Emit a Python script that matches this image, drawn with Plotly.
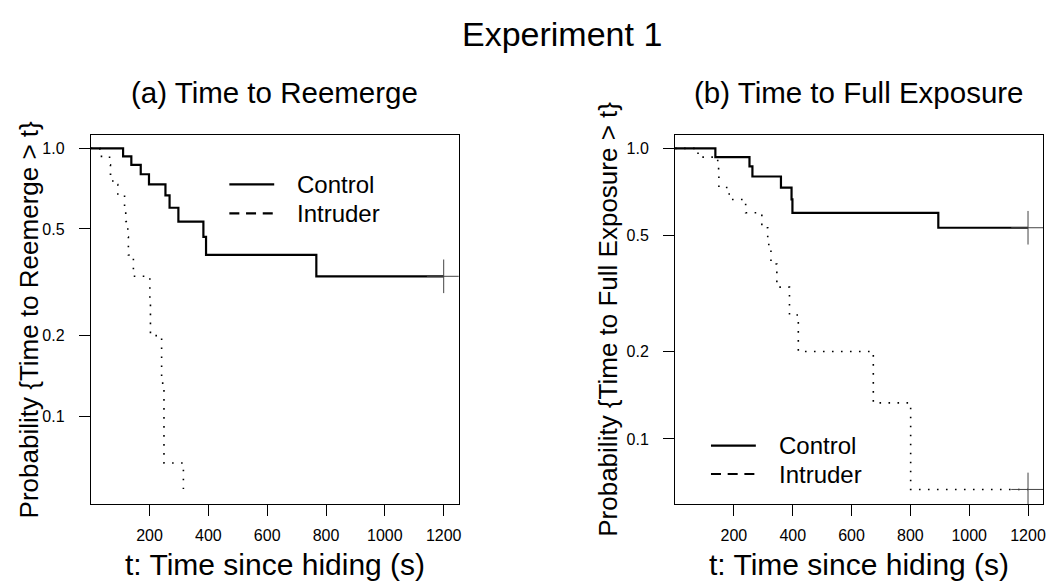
import plotly.graph_objects as go

# Kaplan-Meier step estimates (time in seconds, survival probability)
# (a) Time to reemerge
a_control_t = [0, 110, 138, 170, 198, 254, 268, 298, 383, 392, 767, 1200]
a_control_s = [1.0, 0.933, 0.867, 0.800, 0.733, 0.667, 0.600, 0.533, 0.467, 0.400, 0.333, 0.333]
a_intruder_t = [0, 31, 64, 67, 75, 92, 115, 119, 126, 128, 145, 201, 203, 241, 249, 315]
a_intruder_s = [1.0, 0.933, 0.867, 0.800, 0.733, 0.667, 0.600, 0.533, 0.467, 0.400, 0.333,
                0.267, 0.200, 0.133, 0.067, 0.0]

# (b) Time to full exposure
b_control_t = [0, 137, 253, 263, 360, 396, 399, 895, 1200]
b_control_s = [1.0, 0.933, 0.867, 0.800, 0.733, 0.667, 0.600, 0.533, 0.533]
b_intruder_t = [0, 78, 145, 148, 149, 184, 240, 295, 315, 326, 346, 389, 419, 674, 801, 1200]
b_intruder_s = [1.0, 0.933, 0.867, 0.800, 0.733, 0.667, 0.600, 0.533, 0.467, 0.400, 0.333,
                0.267, 0.200, 0.133, 0.067, 0.067]

# censored observations (+ marks)
a_censor_t = [1200]
a_censor_s = [0.333]
b_censor_t = [1200, 1200]
b_censor_s = [0.533, 0.067]

x_ticks = [200, 400, 600, 800, 1000, 1200]
y_ticks = [0.1, 0.2, 0.5, 1.0]
y_tick_text = ["0.1", "0.2", "0.5", "1.0"]

W, H = 1054, 585
FONT = "Liberation Sans, Arial, Helvetica, sans-serif"


def log_safe(vals):
    # survival of zero cannot sit on a log axis; draw it just below the smallest level
    pos = [v for v in vals if v > 0]
    floor = 0.8 * min(pos)
    return [v if v > 0 else floor for v in vals]


fig = go.Figure()

solid = dict(color="black", width=2.2, shape="hv")
dotted = dict(color="black", width=1.6, shape="hv", dash="1.6px,7.4px")
cross = dict(symbol="cross-thin", size=24, line=dict(color="#444", width=1))

fig.add_trace(go.Scatter(x=a_control_t, y=a_control_s, mode="lines", line=solid,
                         name="Control", showlegend=False, xaxis="x", yaxis="y"))
fig.add_trace(go.Scatter(x=a_intruder_t, y=log_safe(a_intruder_s), mode="lines", line=dotted,
                         name="Intruder", showlegend=False, xaxis="x", yaxis="y"))
fig.add_trace(go.Scatter(x=a_censor_t, y=a_censor_s, mode="markers", marker=cross,
                         showlegend=False, hoverinfo="skip", xaxis="x", yaxis="y"))

fig.add_trace(go.Scatter(x=b_control_t, y=b_control_s, mode="lines", line=solid,
                         name="Control", showlegend=False, xaxis="x2", yaxis="y2"))
fig.add_trace(go.Scatter(x=b_intruder_t, y=log_safe(b_intruder_s), mode="lines", line=dotted,
                         name="Intruder", showlegend=False, xaxis="x2", yaxis="y2"))
fig.add_trace(go.Scatter(x=b_censor_t, y=b_censor_s, mode="markers", marker=cross,
                         showlegend=False, hoverinfo="skip", xaxis="x2", yaxis="y2"))


def px_x(p):
    return p / W


def px_y(p):
    return 1 - p / H


xdom_a = [px_x(91), px_x(460)]
xdom_b = [px_x(677), px_x(1046)]
ydom = [px_y(504), px_y(135)]

axis_common = dict(showline=True, linecolor="black", linewidth=1, mirror=True,
                   showgrid=False, zeroline=False, ticks="outside", ticklen=11,
                   tickwidth=1, tickcolor="black",
                   tickfont=dict(family=FONT, size=16, color="black"))

fig.update_layout(
    width=W, height=H,
    margin=dict(l=0, r=0, t=0, b=0),
    paper_bgcolor="white", plot_bgcolor="white",
    font=dict(family=FONT, color="black"),
    xaxis=dict(domain=xdom_a, anchor="y", range=[0, 1251], tickvals=x_ticks,
               ticklabelstandoff=6, **axis_common),
    yaxis=dict(domain=ydom, anchor="x", type="log", range=[-1.327, 0.0496],
               tickvals=y_ticks, ticktext=y_tick_text, ticklabelstandoff=11, **axis_common),
    xaxis2=dict(domain=xdom_b, anchor="y2", range=[0, 1251], tickvals=x_ticks,
                ticklabelstandoff=6, **axis_common),
    yaxis2=dict(domain=ydom, anchor="x2", type="log", range=[-1.224, 0.0459],
                tickvals=y_ticks, ticktext=y_tick_text, ticklabelstandoff=11, **axis_common),
    showlegend=False,
)

annotations = []


def text(s, x, y, size, **kw):
    annotations.append(dict(text=s, x=px_x(x), y=px_y(y), xref="paper", yref="paper",
                            showarrow=False, font=dict(family=FONT, size=size, color="black"),
                            **kw))


text("Experiment 1", 564, 34, 34, xanchor="center", yanchor="middle")
text("(a) Time to Reemerge", 275.5, 92, 29.5, xanchor="center", yanchor="middle")
text("(b) Time to Full Exposure", 861.5, 92, 29.5, xanchor="center", yanchor="middle")
text("t: Time since hiding (s)", 275.5, 564, 30, xanchor="center", yanchor="middle")
text("t: Time since hiding (s)", 861.5, 564, 30, xanchor="center", yanchor="middle")
text("Probability {Time to Reemerge > t}", 30, 319.5, 26, xanchor="center",
     yanchor="middle", textangle=-90)
text("Probability {Time to Full Exposure > t}", 610, 319.5, 26, xanchor="center",
     yanchor="middle", textangle=-90)

# legend keys
shapes = []


def key(x0, x1, y, dash, label, tx):
    shapes.append(dict(type="line", xref="paper", yref="paper", x0=px_x(x0), x1=px_x(x1),
                       y0=px_y(y), y1=px_y(y),
                       line=dict(color="black", width=2.2, dash=dash)))
    text(label, tx, y, 24, xanchor="left", yanchor="middle")


key(230, 275, 184.3, "solid", "Control", 296)
key(230, 275, 213.3, "10px,6.7px", "Intruder", 296)
key(713, 758, 445.7, "solid", "Control", 779)
key(713, 758, 474, "10px,6.7px", "Intruder", 779)

fig.update_layout(annotations=annotations, shapes=shapes)

fig.write_html("out.html")
